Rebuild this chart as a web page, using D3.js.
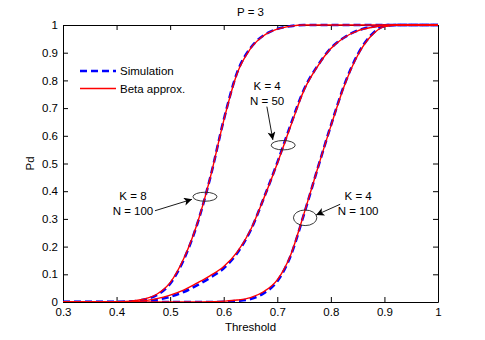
<!DOCTYPE html>
<html>
<head>
<meta charset="utf-8">
<script src="https://cdn.jsdelivr.net/npm/d3@7"></script>
<style>
  html, body { margin: 0; padding: 0; background: #fff; }
  svg { display: block; }
  text { font-family: "Liberation Sans", Arial, Helvetica, sans-serif; }
</style>
</head>
<body>
<svg id="chart" width="485" height="340"></svg>
<script>
// ---------- data ----------
const title = "P = 3";
const xLabel = "Threshold";
const yLabel = "Pd";
const seriesNames = ["Simulation", "Beta approx."];

const threshold = [0.30, 0.325, 0.35, 0.375, 0.40, 0.425, 0.45, 0.475, 0.50, 0.525, 0.55, 0.575, 0.60,
  0.625, 0.65, 0.675, 0.70, 0.725, 0.75, 0.775, 0.80, 0.825, 0.85, 0.875, 0.90, 0.925, 0.95, 0.975, 1.00];

// K = 8, N = 100
const betaK8N100 = [0, 0, 0, 0, 0.001, 0.003, 0.010, 0.028, 0.070, 0.155, 0.280, 0.450, 0.655,
  0.825, 0.915, 0.962, 0.985, 0.996, 1, 1, 1, 1, 1, 1, 1, 1, 1, 1, 1];
const simK8N100 = [0, 0, 0, 0, 0.000, 0.002, 0.008, 0.025, 0.066, 0.151, 0.278, 0.450, 0.657,
  0.828, 0.917, 0.963, 0.986, 0.996, 1, 1, 1, 1, 1, 1, 1, 1, 1, 1, 1];

// K = 4, N = 50
const betaK4N50 = [0, 0, 0, 0, 0, 0.001, 0.004, 0.012, 0.025, 0.043, 0.068, 0.095, 0.128,
  0.180, 0.260, 0.375, 0.500, 0.635, 0.765, 0.850, 0.915, 0.955, 0.979, 0.991, 0.998, 1, 1, 1, 1];
const simK4N50 = [0, 0, 0, 0, 0, 0.000, 0.002, 0.008, 0.019, 0.036, 0.060, 0.088, 0.122,
  0.176, 0.258, 0.376, 0.503, 0.640, 0.768, 0.852, 0.916, 0.955, 0.980, 0.993, 0.999, 1, 1, 1, 1];

// K = 4, N = 100
const betaK4N100 = [0, 0, 0, 0, 0, 0, 0, 0, 0, 0, 0.000, 0.001, 0.003,
  0.007, 0.016, 0.038, 0.080, 0.170, 0.320, 0.480, 0.635, 0.780, 0.890, 0.960, 0.994, 1, 1, 1, 1];
const simK4N100 = [0, 0, 0, 0, 0, 0, 0, 0, 0, 0, 0.000, 0.000, 0.001,
  0.004, 0.011, 0.032, 0.075, 0.167, 0.318, 0.480, 0.637, 0.783, 0.893, 0.963, 0.996, 1, 1, 1, 1];

const xTicks = [0.3, 0.4, 0.5, 0.6, 0.7, 0.8, 0.9, 1];
const xTickLabels = ["0.3", "0.4", "0.5", "0.6", "0.7", "0.8", "0.9", "1"];
const yTicks = [0, 0.1, 0.2, 0.3, 0.4, 0.5, 0.6, 0.7, 0.8, 0.9, 1];
const yTickLabels = ["0", "0.1", "0.2", "0.3", "0.4", "0.5", "0.6", "0.7", "0.8", "0.9", "1"];

// annotations: ellipse center on curve (data coords), labels
const annotLines = [["K = 8", "N = 100"], ["K = 4", "N = 50"], ["K = 4", "N = 100"]];
const annotX = [0.565, 0.711, 0.752];
const annotY = [0.380, 0.566, 0.304];

// ---------- layout ----------
const svg = d3.select("#chart");
const margin = { left: 63, top: 25, right: 485 - 438, bottom: 340 - 302 };
const W = 485 - margin.left - margin.right;
const H = 340 - margin.top - margin.bottom;
const FS = 11.5;

const x = d3.scaleLinear().domain([0.3, 1]).range([0, W]);
const y = d3.scaleLinear().domain([0, 1]).range([H, 0]);

const g = svg.append("g").attr("transform", `translate(${margin.left},${margin.top})`);

// clip
svg.append("defs").append("clipPath").attr("id", "clip")
  .append("rect").attr("x", 0).attr("y", -2).attr("width", W).attr("height", H + 2);

// arrow marker
svg.select("defs").append("marker")
  .attr("id", "arrow").attr("viewBox", "0 0 10 10").attr("refX", 10).attr("refY", 5)
  .attr("markerWidth", 10).attr("markerHeight", 8).attr("markerUnits", "userSpaceOnUse")
  .attr("orient", "auto")
  .append("path").attr("d", "M0,0 L10,5 L0,10 L2.5,5 Z").attr("fill", "#000");

// axes
const fmtX = (d) => xTickLabels[xTicks.indexOf(d)];
const fmtY = (d) => yTickLabels[yTicks.indexOf(d)];

function styleAxis(sel) {
  sel.select(".domain").attr("stroke", "#000").attr("stroke-width", 1);
  sel.selectAll(".tick line").attr("stroke", "#000");
  sel.selectAll("text").attr("font-size", FS).attr("fill", "#000")
    .attr("font-family", "Liberation Sans, Arial, sans-serif");
}

g.append("g").attr("transform", `translate(0,${H})`)
  .call(d3.axisBottom(x).tickValues(xTicks).tickFormat(fmtX).tickSizeInner(-5).tickSizeOuter(0).tickPadding(6))
  .call(styleAxis);
g.append("g")
  .call(d3.axisTop(x).tickValues(xTicks).tickFormat("").tickSizeInner(-5).tickSizeOuter(0))
  .call(styleAxis);
g.append("g")
  .call(d3.axisLeft(y).tickValues(yTicks).tickFormat(fmtY).tickSizeInner(-5).tickSizeOuter(0).tickPadding(5))
  .call(styleAxis);
g.append("g").attr("transform", `translate(${W},0)`)
  .call(d3.axisRight(y).tickValues(yTicks).tickFormat("").tickSizeInner(-5).tickSizeOuter(0))
  .call(styleAxis);

// curves
const line = d3.line().x((d) => x(d[0])).y((d) => y(d[1])).curve(d3.curveMonotoneX);
const plot = g.append("g").attr("clip-path", "url(#clip)");

const simSeries = [simK8N100, simK4N50, simK4N100];
const betaSeries = [betaK8N100, betaK4N50, betaK4N100];

simSeries.forEach((s) => {
  plot.append("path").datum(threshold.map((t, i) => [t, s[i]]))
    .attr("d", line).attr("fill", "none").attr("stroke", "#0000ff")
    .attr("stroke-width", 2.6).attr("stroke-dasharray", "7,4");
});
betaSeries.forEach((s) => {
  plot.append("path").datum(threshold.map((t, i) => [t, s[i]]))
    .attr("d", line).attr("fill", "none").attr("stroke", "#ff0000")
    .attr("stroke-width", 1.4);
});

// annotations
const ellR = [[12, 4.5], [12, 4.7], [11.7, 7.8]];
// label offset (pixels) relative to ellipse center, arrow start relative to center
const labelOff = [[-72, 7], [-16, -52], [53, -14]];
const arrowStart = [[-50, 14], [-16.3, -38.6], [35, -13.5]];
const arrowEnd = [[-13, 2.6], [-10.3, -5.3], [11, -2.8]];

annotLines.forEach((lines, i) => {
  const cx = x(annotX[i]), cy = y(annotY[i]);
  g.append("ellipse").attr("cx", cx).attr("cy", cy)
    .attr("rx", ellR[i][0]).attr("ry", ellR[i][1])
    .attr("fill", "none").attr("stroke", "#222").attr("stroke-width", 0.9);
  g.append("line")
    .attr("x1", cx + arrowStart[i][0]).attr("y1", cy + arrowStart[i][1])
    .attr("x2", cx + arrowEnd[i][0]).attr("y2", cy + arrowEnd[i][1])
    .attr("stroke", "#000").attr("stroke-width", 0.9).attr("marker-end", "url(#arrow)");
  const t = g.append("text").attr("text-anchor", "middle").attr("font-size", FS).attr("fill", "#000");
  lines.forEach((ln, j) => {
    t.append("tspan").attr("x", cx + labelOff[i][0]).attr("y", cy + labelOff[i][1] + j * 15 - 15 / 2 + 4).text(ln);
  });
});

// legend
const legend = g.append("g").attr("transform", "translate(17,46)");
legend.append("line").attr("x1", 0).attr("x2", 36).attr("y1", 0).attr("y2", 0)
  .attr("stroke", "#0000ff").attr("stroke-width", 2.6).attr("stroke-dasharray", "7,4");
legend.append("text").attr("x", 40).attr("y", 4).attr("font-size", FS).text(seriesNames[0]);
legend.append("line").attr("x1", 0).attr("x2", 36).attr("y1", 17.5).attr("y2", 17.5)
  .attr("stroke", "#ff0000").attr("stroke-width", 1.4);
legend.append("text").attr("x", 40).attr("y", 21.5).attr("font-size", FS).text(seriesNames[1]);

// title & labels
svg.append("text").attr("x", margin.left + W / 2).attr("y", 16).attr("text-anchor", "middle")
  .attr("font-size", FS).text(title);
svg.append("text").attr("x", margin.left + W / 2).attr("y", 331).attr("text-anchor", "middle")
  .attr("font-size", FS).text(xLabel);
svg.append("text").attr("transform", `translate(34,${margin.top + H / 2}) rotate(-90)`)
  .attr("text-anchor", "middle").attr("font-size", FS).text(yLabel);
</script>
</body>
</html>
